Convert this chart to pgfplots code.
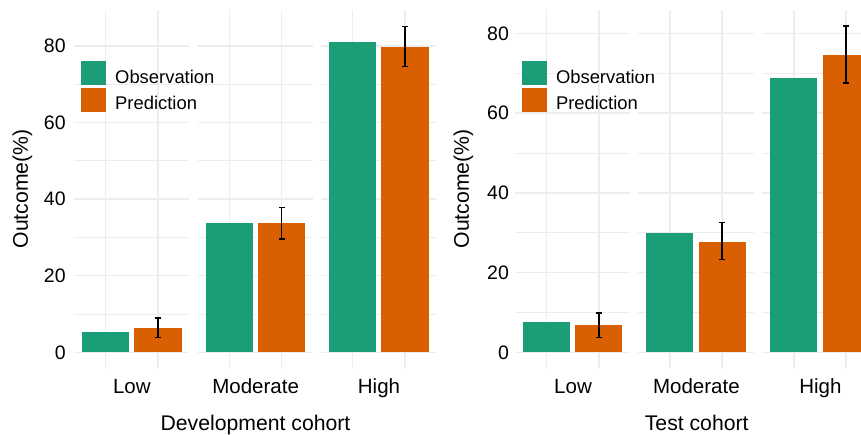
\documentclass[border=0pt]{standalone}
\usepackage{fontspec}
\setmainfont{Liberation Sans}
\usepackage{pgfplots}
\pgfplotsset{compat=1.18}
\definecolor{obs}{HTML}{1B9E77}
\definecolor{pred}{HTML}{D95F02}
\definecolor{gridc}{HTML}{EDEDED}
\newcommand{\tickfont}{\fontsize{19.5}{22}\selectfont}
\newcommand{\stripfont}{\fontsize{20.5}{24}\selectfont}
\newcommand{\titlefont}{\fontsize{21.2}{25}\selectfont}
\newcommand{\legfont}{\fontsize{18.4}{22}\selectfont}
\pgfplotsset{
  facet/.style={
    scale only axis, width=115.1pt, height=358pt,
    anchor=south west,
    xmin=0.4, xmax=2.6,
    xtick={1,2}, xticklabels={},
    ytick={0,20,40,60,80}, minor ytick={10,30,50,70},
    xmajorgrids, ymajorgrids, yminorgrids,
    major grid style={draw=gridc, line width=1.5pt},
    minor grid style={draw=gridc, line width=0.8pt},
    axis line style={draw=none},
    major tick length=0pt, minor tick length=0pt,
    tick style={draw=none},
    ybar, bar width=0.9,
    /pgf/number format/assume math mode=true,
    yticklabel style={font=\tickfont, inner sep=0pt},
  },
  noyl/.style={yticklabels={}},
  errs/.style={
    error bars/.cd, y dir=both, y explicit,
    error bar style={line width=1.4pt, black},
    error mark=-,
    error mark options={rotate=90, line width=1.4pt, mark size=3pt, black},
  },
  leg/.style={
    legend style={at={(axis description cs:0,1)}, anchor=north west,
      xshift=6.7pt, yshift=-50.9pt, draw=none, fill=none, inner sep=0pt,
      outer sep=0pt, nodes={inner sep=0pt, font=\legfont},
      column sep=9.5pt, row sep=2.7pt},
    legend cell align=left,
    legend image code/.code={\fill[##1,/tikz/.cd] (0pt,-8pt) rectangle (24.7pt,16pt);},
  },
}
\begin{document}
\begin{tikzpicture}
\path[use as bounding box] (0,0) rectangle (861pt,-435pt);
% ---------- Development cohort ----------
\begin{axis}[facet, leg, at={(74.3pt,-368.4pt)}, ymin=-4.2, ymax=89.3,
  yticklabel style={xshift=-8.5pt}]
\addplot[fill=obs, draw=none, bar shift=0pt] coordinates {(1,5.2)};
\addplot[fill=pred, draw=none, bar shift=0pt, errs] coordinates {(2,6.3) += (0,2.7) -= (0,2.4)};
\legend{Observation, Prediction}
\end{axis}
\begin{axis}[facet, noyl, at={(197.9pt,-368.4pt)}, ymin=-4.2, ymax=89.3]
\addplot[fill=obs, draw=none, bar shift=0pt] coordinates {(1,33.9)};
\addplot[fill=pred, draw=none, bar shift=0pt, errs] coordinates {(2,33.7) += (0,4.1) -= (0,4.1)};
\end{axis}
\begin{axis}[facet, noyl, at={(321.3pt,-368.4pt)}, ymin=-4.2, ymax=89.3]
\addplot[fill=obs, draw=none, bar shift=0pt] coordinates {(1,81.0)};
\addplot[fill=pred, draw=none, bar shift=0pt, errs] coordinates {(2,79.8) += (0,5.3) -= (0,5.1)};
\end{axis}
% ---------- Test cohort ----------
\begin{axis}[facet, leg, at={(515.1pt,-368.3pt)}, ymin=-4.0, ymax=85.8,
  yticklabel style={xshift=-6pt}]
\addplot[fill=obs, draw=none, bar shift=0pt] coordinates {(1,7.7)};
\addplot[fill=pred, draw=none, bar shift=0pt, errs] coordinates {(2,6.8) += (0,3.1) -= (0,3.1)};
\legend{Observation, Prediction}
\end{axis}
\begin{axis}[facet, noyl, at={(638.4pt,-368.3pt)}, ymin=-4.0, ymax=85.8]
\addplot[fill=obs, draw=none, bar shift=0pt] coordinates {(1,29.9)};
\addplot[fill=pred, draw=none, bar shift=0pt, errs] coordinates {(2,27.8) += (0,4.7) -= (0,4.5)};
\end{axis}
\begin{axis}[facet, noyl, at={(762.4pt,-368.3pt)}, ymin=-4.0, ymax=85.8]
\addplot[fill=obs, draw=none, bar shift=0pt] coordinates {(1,68.8)};
\addplot[fill=pred, draw=none, bar shift=0pt, errs] coordinates {(2,74.7) += (0,7.2) -= (0,7.1)};
\end{axis}
% ---------- labels ----------
\node[anchor=base, font=\stripfont] at (131.85pt,-393.3pt) {Low};
\node[anchor=base, font=\stripfont] at (255.65pt,-393.3pt) {Moderate};
\node[anchor=base, font=\stripfont] at (379pt,-393.3pt) {High};
\node[anchor=base, font=\stripfont] at (573pt,-393.3pt) {Low};
\node[anchor=base, font=\stripfont] at (696.35pt,-393.3pt) {Moderate};
\node[anchor=base, font=\stripfont] at (820.35pt,-393.3pt) {High};
\node[anchor=base, font=\titlefont] at (255.5pt,-430pt) {Development cohort};
\node[anchor=base, font=\titlefont] at (696.7pt,-430pt) {Test cohort};
\node[rotate=90, font=\titlefont] at (22.5pt,-189pt) {Outcome(\%)};
\node[rotate=90, font=\titlefont] at (463.3pt,-189pt) {Outcome(\%)};
\end{tikzpicture}
\end{document}
